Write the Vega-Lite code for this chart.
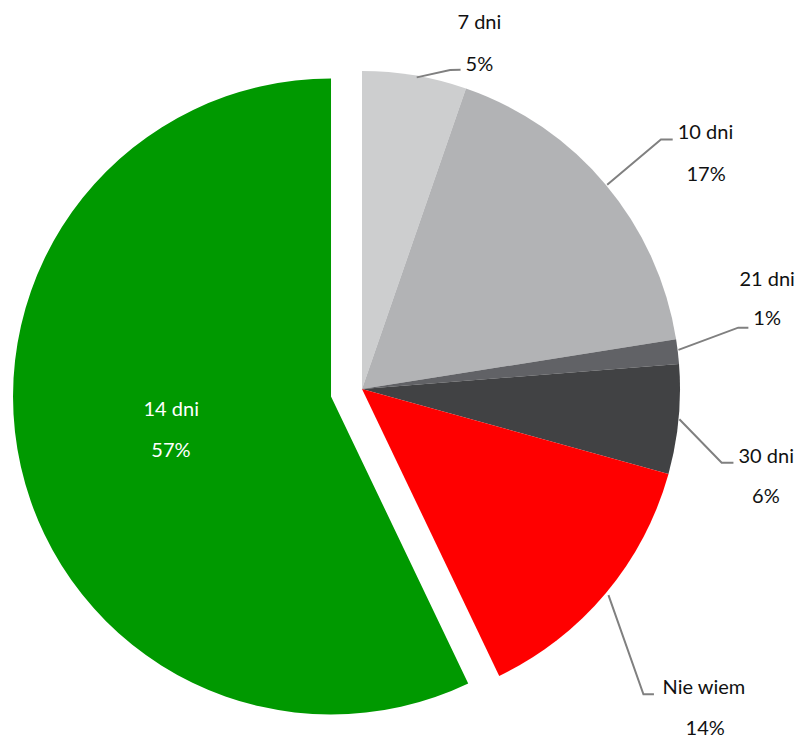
{
  "$schema": "https://vega.github.io/schema/vega-lite/v6.json",
  "width": 802,
  "height": 740,
  "padding": 0,
  "autosize": {"type": "none"},
  "background": "white",
  "view": {"stroke": null},
  "config": {"text": {"font": "Lato", "fontSize": 20}},
  "datasets": {
    "slices": [
      {"cat": "7 dni", "value": 5.3, "order": 1},
      {"cat": "10 dni", "value": 17.2, "order": 2},
      {"cat": "21 dni", "value": 1.25, "order": 3},
      {"cat": "30 dni", "value": 5.55, "order": 4},
      {"cat": "Nie wiem", "value": 13.6, "order": 5},
      {"cat": "14 dni", "value": 57.1, "order": 6}
    ],
    "leaders": [
      {"cat": "7 dni", "seq": 1, "x": 17.2, "y": 98.0},
      {"cat": "7 dni", "seq": 2, "x": 27.7, "y": 100.3},
      {"cat": "7 dni", "seq": 3, "x": 31.0, "y": 100.4},
      {"cat": "10 dni", "seq": 1, "x": 77.1, "y": 64.2},
      {"cat": "10 dni", "seq": 2, "x": 94.0, "y": 78.5},
      {"cat": "10 dni", "seq": 3, "x": 97.7, "y": 78.5},
      {"cat": "21 dni", "seq": 1, "x": 99.5, "y": 12.3},
      {"cat": "21 dni", "seq": 2, "x": 118.3, "y": 19.3},
      {"cat": "21 dni", "seq": 3, "x": 121.5, "y": 19.3},
      {"cat": "30 dni", "seq": 1, "x": 99.8, "y": -9.5},
      {"cat": "30 dni", "seq": 2, "x": 113.1, "y": -23.2},
      {"cat": "30 dni", "seq": 3, "x": 116.8, "y": -23.2},
      {"cat": "Nie wiem", "seq": 1, "x": 77.5, "y": -64.8},
      {"cat": "Nie wiem", "seq": 2, "x": 88.5, "y": -96.0},
      {"cat": "Nie wiem", "seq": 3, "x": 91.8, "y": -96.0}
    ],
    "labels": [
      {"cat": "7 dni", "text": "7 dni", "x": 36.9, "y": 113.2},
      {"cat": "7 dni", "text": "5%", "x": 36.9, "y": 100.1},
      {"cat": "10 dni", "text": "10 dni", "x": 108.0, "y": 78.5},
      {"cat": "10 dni", "text": "17%", "x": 108.2, "y": 65.5},
      {"cat": "21 dni", "text": "21 dni", "x": 127.4, "y": 32.5},
      {"cat": "21 dni", "text": "1%", "x": 127.4, "y": 20.1},
      {"cat": "30 dni", "text": "30 dni", "x": 127.1, "y": -23.4},
      {"cat": "30 dni", "text": "6%", "x": 127.0, "y": -35.8},
      {"cat": "Nie wiem", "text": "Nie wiem", "x": 107.5, "y": -96.0},
      {"cat": "Nie wiem", "text": "14%", "x": 107.9, "y": -108.8},
      {"cat": "14 dni", "text": "14 dni", "x": -60.0, "y": -8.5},
      {"cat": "14 dni", "text": "57%", "x": -60.1, "y": -21.5}
    ]
  },
  "layer": [
    {
      "data": {"name": "slices"},
      "transform": [
        {"stack": "value", "groupby": [], "sort": [{"field": "order"}], "as": ["v0", "v1"]},
        {"filter": "datum.cat !== '14 dni'"}
      ],
      "mark": {"type": "arc", "radius": 318},
      "encoding": {
        "x": {"datum": 0, "type": "quantitative", "scale": {"domain": [-113.84, 138.36], "nice": false, "zero": false}, "axis": null},
        "y": {"datum": 0, "type": "quantitative", "scale": {"domain": [-110.38, 122.33], "nice": false, "zero": false}, "axis": null},
        "theta": {"field": "v0", "type": "quantitative", "stack": null, "scale": {"domain": [0, 100]}},
        "theta2": {"field": "v1"},
        "color": {
          "field": "cat", "type": "nominal", "legend": null,
          "scale": {
            "domain": ["7 dni", "10 dni", "21 dni", "30 dni", "Nie wiem", "14 dni"],
            "range": ["#cdcecf", "#b2b3b5", "#616266", "#414244", "#ff0000", "#009900"]
          }
        }
      }
    },
    {
      "data": {"name": "slices"},
      "transform": [
        {"stack": "value", "groupby": [], "sort": [{"field": "order"}], "as": ["v0", "v1"]},
        {"filter": "datum.cat === '14 dni'"}
      ],
      "mark": {"type": "arc", "radius": 318, "xOffset": -31, "yOffset": 7.5},
      "encoding": {
        "x": {"datum": 0, "type": "quantitative", "scale": {"domain": [-113.84, 138.36], "nice": false, "zero": false}, "axis": null},
        "y": {"datum": 0, "type": "quantitative", "scale": {"domain": [-110.38, 122.33], "nice": false, "zero": false}, "axis": null},
        "theta": {"field": "v0", "type": "quantitative", "stack": null, "scale": {"domain": [0, 100]}},
        "theta2": {"field": "v1"},
        "color": {
          "field": "cat", "type": "nominal", "legend": null,
          "scale": {
            "domain": ["7 dni", "10 dni", "21 dni", "30 dni", "Nie wiem", "14 dni"],
            "range": ["#cdcecf", "#b2b3b5", "#616266", "#414244", "#ff0000", "#009900"]
          }
        }
      }
    },
    {
      "data": {"name": "leaders"},
      "mark": {"type": "line", "color": "#808080", "strokeWidth": 2},
      "encoding": {
        "x": {"field": "x", "type": "quantitative", "scale": {"domain": [-113.84, 138.36], "nice": false, "zero": false}, "axis": null},
        "y": {"field": "y", "type": "quantitative", "scale": {"domain": [-110.38, 122.33], "nice": false, "zero": false}, "axis": null},
        "detail": {"field": "cat"},
        "order": {"field": "seq"}
      }
    },
    {
      "data": {"name": "labels"},
      "mark": {"type": "text", "align": "center", "baseline": "alphabetic"},
      "encoding": {
        "x": {"field": "x", "type": "quantitative", "scale": {"domain": [-113.84, 138.36], "nice": false, "zero": false}, "axis": null},
        "y": {"field": "y", "type": "quantitative", "scale": {"domain": [-110.38, 122.33], "nice": false, "zero": false}, "axis": null},
        "text": {"field": "text"},
        "color": {
          "condition": {"test": "datum.cat === '14 dni'", "value": "#ffffff"},
          "value": "#111111"
        }
      }
    }
  ]
}
